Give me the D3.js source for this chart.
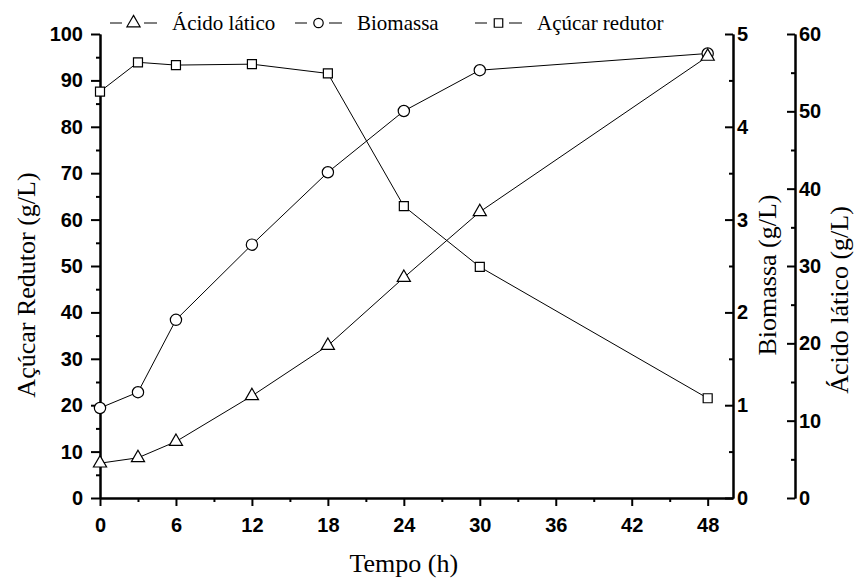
<!DOCTYPE html>
<html lang="pt">
<meta charset="utf-8">
<style>
body { margin: 0; background: #fff; }
.axis path, .axis line { fill: none; stroke: #000; stroke-width: 2px; }
.axis text { font: bold 20px "Liberation Sans", Arial, sans-serif; fill: #000; }
.title { font: 26px "Liberation Serif", "Times New Roman", serif; fill: #000; }
.legend text { font: 21px "Liberation Serif", "Times New Roman", serif; fill: #000; }
.serie { fill: none; stroke: #000; stroke-width: 1px; }
.mark { fill: #fff; stroke: #000; stroke-width: 1.2px; }
</style>
<body>
<script src="https://d3js.org/d3.v7.min.js"></script>
<script>
// dados
var tempo    = [0, 3, 6, 12, 18, 24, 30, 48];
var acucar   = [87.6, 93.9, 93.3, 93.5, 91.5, 62.9, 49.8, 21.5];
var biomassa = [0.97, 1.14, 1.92, 2.73, 3.51, 4.17, 4.61, 4.79];
var acido    = [4.5, 5.2, 7.3, 13.2, 19.7, 28.5, 37.0, 57.1];

var xTicks = [0, 6, 12, 18, 24, 30, 36, 42, 48];

var w = 855, h = 580;
var mLeft = 100, mRight = 733, mTop = 34, mBottom = 498;
var xAcido = 795;

var svg = d3.select("body").append("svg")
  .attr("width", w)
  .attr("height", h);

var x = d3.scaleLinear().domain([0, 50]).range([mLeft, mRight]);
var yAcucar = d3.scaleLinear().domain([0, 100]).range([mBottom, mTop]);
var yBio = d3.scaleLinear().domain([0, 5]).range([mBottom, mTop]);
var yAcido = d3.scaleLinear().domain([0, 60]).range([mBottom, mTop]);

// eixo x
svg.append("g").attr("class", "axis")
  .attr("transform", "translate(0," + mBottom + ")")
  .call(d3.axisBottom(x).tickValues(d3.range(3, 48, 6)).tickSize(4).tickSizeOuter(0).tickFormat(""));
svg.append("g").attr("class", "axis")
  .attr("transform", "translate(0," + mBottom + ")")
  .call(d3.axisBottom(x).tickValues(xTicks).tickSize(8).tickSizeOuter(0).tickPadding(12));

// eixo esquerdo (açúcar)
svg.append("g").attr("class", "axis")
  .attr("transform", "translate(" + mLeft + ",0)")
  .call(d3.axisLeft(yAcucar).tickValues(d3.range(5, 100, 10)).tickSize(4).tickSizeOuter(0).tickFormat(""));
svg.append("g").attr("class", "axis")
  .attr("transform", "translate(" + mLeft + ",0)")
  .call(d3.axisLeft(yAcucar).tickValues(d3.range(0, 101, 10)).tickSize(9).tickSizeOuter(0).tickPadding(8));

// eixos da direita: marcas para dentro, rótulos para fora
function rightAxis(xpos, scale, major, minor) {
  svg.append("g").attr("class", "axis")
    .attr("transform", "translate(" + xpos + ",0)")
    .call(d3.axisLeft(scale).tickValues(minor).tickSize(4).tickSizeOuter(0).tickFormat(""));
  svg.append("g").attr("class", "axis")
    .attr("transform", "translate(" + xpos + ",0)")
    .call(d3.axisLeft(scale).tickValues(major).tickSize(8).tickSizeOuter(0).tickFormat(""));
  var lab = svg.append("g").attr("class", "axis")
    .attr("transform", "translate(" + xpos + ",0)")
    .call(d3.axisRight(scale).tickValues(major).tickSize(0).tickSizeOuter(0)
      .tickPadding(4).tickFormat(d3.format("d")));
  lab.select(".domain").remove();
}
rightAxis(mRight, yBio, [0, 1, 2, 3, 4, 5], [0.5, 1.5, 2.5, 3.5, 4.5]);
rightAxis(xAcido, yAcido, d3.range(0, 61, 10), d3.range(5, 60, 10));

// títulos
svg.append("text").attr("class", "title")
  .attr("text-anchor", "middle")
  .attr("transform", "translate(35,285) rotate(-90)")
  .text("Açúcar Redutor (g/L)");
svg.append("text").attr("class", "title")
  .attr("text-anchor", "middle")
  .attr("transform", "translate(776,275) rotate(-90)")
  .text("Biomassa (g/L)");
svg.append("text").attr("class", "title")
  .attr("text-anchor", "middle")
  .attr("transform", "translate(848,300) rotate(-90)")
  .text("Ácido lático (g/L)");
svg.append("text").attr("class", "title")
  .attr("text-anchor", "middle")
  .attr("x", x(24)).attr("y", 572)
  .text("Tempo (h)");

// séries
var series = [
  { vals: acucar, y: yAcucar, sym: d3.symbolSquare, size: 81 },
  { vals: biomassa, y: yBio, sym: d3.symbolCircle, size: 100 },
  { vals: acido, y: yAcido, sym: d3.symbolTriangle, size: 75 }
];

series.forEach(function(s) {
  var line = d3.line()
    .x(function(d, i) { return x(tempo[i]); })
    .y(function(d) { return s.y(d); });
  svg.append("path").attr("class", "serie").attr("d", line(s.vals));
});
series.forEach(function(s) {
  svg.append("g").selectAll("path")
    .data(s.vals)
    .enter()
    .append("path")
    .attr("class", "mark")
    .attr("d", d3.symbol().type(s.sym).size(s.size))
    .attr("transform", function(d, i) {
      return "translate(" + x(tempo[i]) + "," + s.y(d) + ")";
    });
});

// legenda
var legend = [
  { name: "Ácido lático", sym: d3.symbolTriangle, size: 75, x0: 110 },
  { name: "Biomassa", sym: d3.symbolCircle, size: 70, x0: 295 },
  { name: "Açúcar redutor", sym: d3.symbolSquare, size: 72, x0: 475 }
];
var lg = svg.append("g").attr("class", "legend");
legend.forEach(function(d) {
  var ly = 23;
  [[0, 12], [34, 47]].forEach(function(seg) {
    lg.append("line").attr("x1", d.x0 + seg[0]).attr("x2", d.x0 + seg[1])
      .attr("y1", ly).attr("y2", ly)
      .attr("stroke", "#000").attr("stroke-width", 1);
  });
  lg.append("path").attr("class", "mark")
    .attr("d", d3.symbol().type(d.sym).size(d.size))
    .attr("transform", "translate(" + (d.x0 + 23.5) + "," + ly + ")");
  lg.append("text").attr("x", d.x0 + 62).attr("y", 30).text(d.name);
});
</script>
</body>
</html>
